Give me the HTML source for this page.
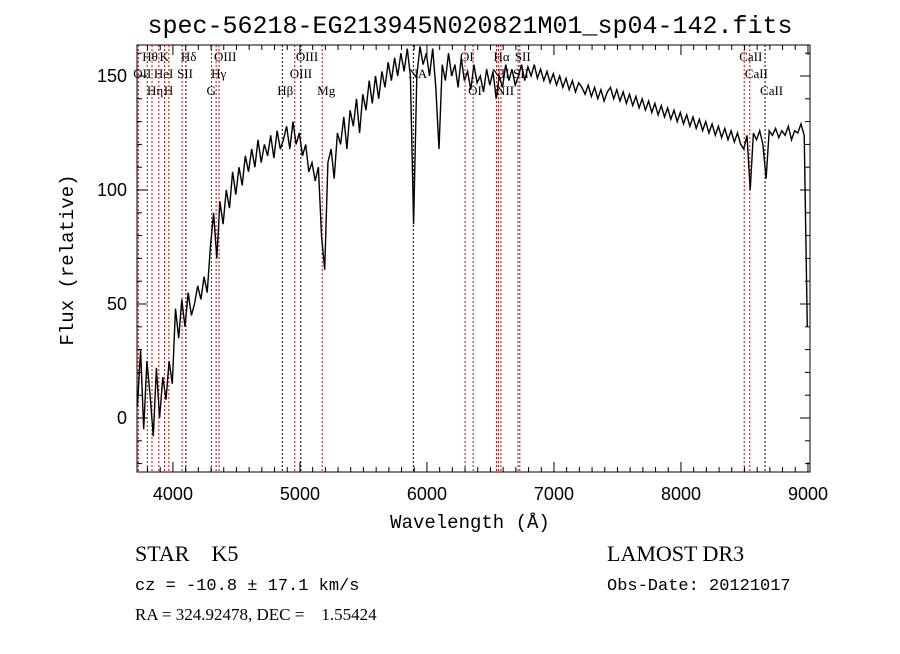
<!DOCTYPE html>
<html><head><meta charset="utf-8"><style>
body{margin:0;background:#fff;}
svg text{font-family:"Liberation Serif",serif;white-space:pre;}
</style></head><body>
<svg id="c" width="900" height="649" viewBox="0 0 900 649" xmlns="http://www.w3.org/2000/svg" xml:space="preserve">
<rect width="900" height="649" fill="#fff"/>
<text x="470" y="33" text-anchor="middle" font-size="25" style="font-family:'Liberation Mono',monospace">spec-56218-EG213945N020821M01_sp04-142.fits</text>
<g id="lines"></g>
<g id="labels" font-size="13"></g>
<polyline id="spec" fill="none" stroke="#000" stroke-width="1.4"/>
<rect x="137" y="45" width="673" height="427" fill="none" stroke="#000" stroke-width="1"/>
<g id="xt"></g><g id="yt"></g>
<text x="470" y="528" text-anchor="middle" font-size="19" style="font-family:'Liberation Mono',monospace">Wavelength (Å)</text>
<text transform="translate(73,260) rotate(-90)" text-anchor="middle" font-size="19" style="font-family:'Liberation Mono',monospace">Flux (relative)</text>
<text x="135" y="561" font-size="22">STAR    K5</text>
<text x="607" y="561" font-size="22">LAMOST DR3</text>
<text x="135" y="590" font-size="17" style="font-family:'Liberation Mono',monospace">cz = -10.8 ± 17.1 km/s</text>
<text x="607" y="590" font-size="17" style="font-family:'Liberation Mono',monospace">Obs-Date: 20121017</text>
<text x="135" y="620" font-size="17">RA = 324.92478, DEC =    1.55424</text>
</svg>
<script>
const wlStart = 3720, wlStep = 25;
const flux = [5,30,-5,25,10,-8,22,0,18,8,25,15,48,35,52,40,55,45,50,58,52,62,55,75,90,70,95,85,100,92,108,98,110,102,115,108,118,110,122,112,120,115,124,114,126,118,122,128,118,130,120,125,115,120,108,112,104,110,80,65,112,118,105,125,120,132,118,135,128,140,125,142,135,148,138,150,140,152,145,156,148,158,150,160,152,162,150,85,150,163,155,160,150,162,145,118,155,148,160,150,155,145,158,148,152,144,155,147,150,143,153,146,152,140,150,145,155,148,153,146,150,155,148,154,150,155,149,153,148,152,147,151,146,150,145,149,144,148,143,147,145,142,146,141,145,140,144,139,143,145,140,144,139,143,138,142,137,141,136,140,135,139,134,138,133,137,132,136,131,135,130,134,129,133,128,132,127,131,126,130,125,129,124,128,123,127,122,126,121,125,120,118,124,100,125,122,126,120,105,126,124,127,123,126,124,128,122,126,125,129,124,40];
const xTicks = [4000,5000,6000,7000,8000,9000];
const yTicks = [0,50,100,150];
const lineWl = [3727,3798,3835,3889,3934,3968,4072,4102,4304,4340,4363,4861,4959,5007,5175,5893,6300,6364,6548,6563,6583,6717,6731,8498,8542,8662];
const lineNames = ["OII","Hθ","Hη","HeI","K","H","SII","Hδ","G","Hγ","OIII","Hβ","OIII","OIII","Mg","NA","OI","OI","NII","Hα","NII","SII","SII","CaII","CaII","CaII"];
const lineRow = [1,0,2,1,0,2,1,0,2,1,0,2,1,0,2,1,0,2,1,0,2,1,0,0,1,2];
const lineRed = [1,1,1,1,1,1,1,0,1,1,1,0,1,0,1,0,1,1,1,1,1,1,1,1,1,0];
const X = w => 137 + (w - 3717) * 673 / (9016 - 3717);
const Y = f => 418 - f * 2.28;
const NS = "http://www.w3.org/2000/svg";
const pts = flux.map((f,i)=>X(wlStart+i*wlStep).toFixed(1)+","+Y(f).toFixed(1));
document.getElementById('spec').setAttribute('points', pts.join(' '));
const xt = document.getElementById('xt'), yt = document.getElementById('yt');
for (let w=3800; w<=9000; w+=100){
  const l=document.createElementNS(NS,'line'); const x=X(w); const big=w%1000===0;
  l.setAttribute('x1',x);l.setAttribute('x2',x);l.setAttribute('y1',472);l.setAttribute('y2',472-(big?10:5));l.setAttribute('stroke','#000');
  
  
  xt.appendChild(l);
  const l2=l.cloneNode(); l2.setAttribute('y1',45); l2.setAttribute('y2',45+(big?10:5)); xt.appendChild(l2);
}
xTicks.forEach(w=>{const t=document.createElementNS(NS,'text');t.setAttribute('x',X(w));t.setAttribute('y',500);t.setAttribute('text-anchor','middle');t.setAttribute('font-size','18');t.style.fontFamily="'Liberation Sans',sans-serif";t.textContent=w;
  
  
  xt.appendChild(t);});
for (let f=-20; f<=160; f+=10){
  const l=document.createElementNS(NS,'line'); const y=Y(f); const big=f%50===0;
  l.setAttribute('y1',y);l.setAttribute('y2',y);l.setAttribute('x1',137);l.setAttribute('x2',137+(big?10:5));l.setAttribute('stroke','#000');
  
  
  yt.appendChild(l);
  const l2=l.cloneNode(); l2.setAttribute('x1',810); l2.setAttribute('x2',810-(big?10:5)); yt.appendChild(l2);
}
yTicks.forEach(f=>{const t=document.createElementNS(NS,'text');t.setAttribute('x',127);t.setAttribute('y',Y(f)+6);t.setAttribute('text-anchor','end');t.setAttribute('font-size','18');t.style.fontFamily="'Liberation Sans',sans-serif";t.textContent=f;
  
  
  yt.appendChild(t);});
const lg=document.getElementById('lines'), lb=document.getElementById('labels');
lineWl.forEach((w,i)=>{
  const l=document.createElementNS(NS,'line'); const x=X(w);
  l.setAttribute('x1',x);l.setAttribute('x2',x);l.setAttribute('y1',45);l.setAttribute('y2',472);
  l.setAttribute('stroke',lineRed[i]?'#c00':'#000');l.setAttribute('stroke-dasharray','2,2');l.setAttribute('stroke-width','1');
  
  
  lg.appendChild(l);
  const t=document.createElementNS(NS,'text');t.setAttribute('x',x-5);t.setAttribute('y',61+lineRow[i]*17);t.textContent=lineNames[i];
  
  
  lb.appendChild(t);
});
</script>
</body></html>
